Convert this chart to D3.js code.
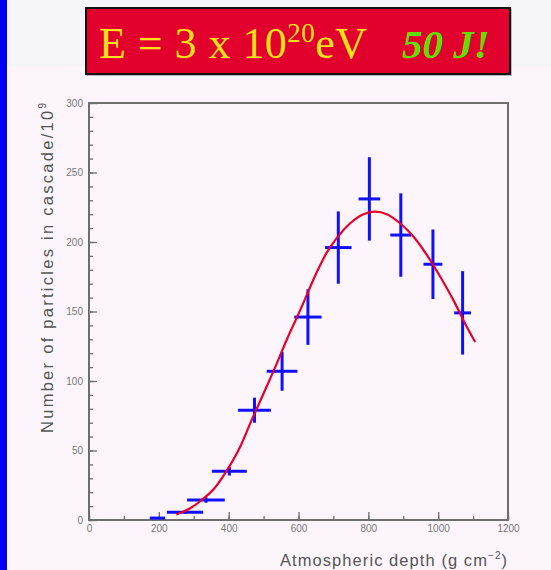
<!DOCTYPE html>
<html>
<head>
<meta charset="utf-8">
<script src="https://cdn.jsdelivr.net/npm/d3@7"></script>
<style>
  html, body { margin: 0; padding: 0; background: #fcf6fc; }
  svg { display: block; }
</style>
</head>
<body>
<svg id="chart" width="551" height="570"></svg>
<script>
// Shower profile: measured particle counts per depth bin
const depth   = [196, 275, 335, 402, 474, 553, 627, 714, 803, 893, 985, 1070];
const count   = [1.4, 5.5, 14.4, 35, 79, 107, 146, 196, 231, 205, 184, 149];
const depthHalfWidth = [22, 52, 54, 50, 47, 44, 39, 38, 31, 30, 27, 24];
const countErr = [0, 1, 2, 3, 9, 14, 20, 26, 30, 30, 25, 30];

// Fitted longitudinal profile (sampled)
const fitDepth = [250, 290, 323, 360, 390, 433, 466, 500, 538, 566, 605, 650, 680, 710, 748, 786, 819, 853, 891, 929, 968, 1006, 1044, 1082, 1106];
const fitCount = [4, 8.5, 14.4, 23, 33.7, 52.7, 72, 91, 112.7, 129.5, 151, 177, 192, 203, 213.5, 220, 221.8, 220, 213.5, 204, 190.6, 175, 158, 139, 128];

const xTickLabels = [0, 200, 400, 600, 800, 1000, 1200];
const yTickLabels = [0, 50, 100, 150, 200, 250, 300];

const svg = d3.select("#chart");

// Page background: pale header band, blue strip on the left
svg.append("rect").attr("x", 0).attr("y", 0).attr("width", 551).attr("height", 570).attr("fill", "#fcf6fc");
svg.append("rect").attr("x", 0).attr("y", 0).attr("width", 551).attr("height", 66).attr("fill", "#f6f6fa");
svg.append("rect").attr("x", 0).attr("y", 0).attr("width", 7).attr("height", 570).attr("fill", "#0000f0");

// Title banner
const banner = svg.append("g");
banner.append("rect").attr("x", 87).attr("y", 9).attr("width", 425).attr("height", 67)
  .attr("fill", "#b8b8c0");
banner.append("rect").attr("x", 86).attr("y", 8).attr("width", 424).attr("height", 66)
  .attr("fill", "#e2002c").attr("stroke", "#111").attr("stroke-width", 2);

const title = banner.append("text")
  .attr("x", 99).attr("y", 58)
  .attr("font-family", "'Liberation Serif', 'Times New Roman', serif")
  .attr("font-size", 44)
  .attr("fill", "#ffe01a")
  .attr("textLength", 268).attr("lengthAdjust", "spacing");
title.append("tspan").text("E = 3 x 10");
title.append("tspan").attr("font-size", 27).attr("dy", -16).text("20");
title.append("tspan").attr("dy", 16).text("eV");
banner.append("text")
  .attr("x", 402).attr("y", 58)
  .attr("font-family", "'Liberation Serif', 'Times New Roman', serif")
  .attr("font-size", 41).attr("font-weight", "bold").attr("font-style", "italic")
  .attr("fill", "#66dd00")
  .text("50 J!");

// Plot area
const x = d3.scaleLinear().domain([0, 1200]).range([89, 508]);
const y = d3.scaleLinear().domain([0, 300]).range([520, 103]);

const axisColor = "#6e6e6e";
const labelColor = "#777";

// Frame
svg.append("rect")
  .attr("x", x(0)).attr("y", y(300))
  .attr("width", x(1200) - x(0)).attr("height", y(0) - y(300))
  .attr("fill", "none").attr("stroke", axisColor).attr("stroke-width", 2);

// Minor ticks
const yMinor = svg.append("g").attr("transform", `translate(${x(0)},0)`)
  .call(d3.axisLeft(y).tickValues(d3.range(0, 301, 10)).tickSize(-4).tickFormat(""));
const xMinor = svg.append("g").attr("transform", `translate(0,${y(0)})`)
  .call(d3.axisBottom(x).tickValues(d3.range(0, 1201, 100)).tickSize(-4).tickFormat(""));

// Major ticks with labels
const yAxis = svg.append("g").attr("transform", `translate(${x(0)},0)`)
  .call(d3.axisLeft(y).tickValues(yTickLabels).tickSize(-8).tickPadding(6).tickFormat(d3.format("d")));
const xAxis = svg.append("g").attr("transform", `translate(0,${y(0)})`)
  .call(d3.axisBottom(x).tickValues(xTickLabels).tickSize(-8).tickPadding(5).tickFormat(d3.format("d")));

[yMinor, xMinor, yAxis, xAxis].forEach(g => {
  g.select(".domain").remove();
  g.selectAll("line").attr("stroke", axisColor).attr("stroke-width", 1.3);
  g.selectAll("text")
    .attr("fill", labelColor)
    .attr("font-family", "'Liberation Sans', Arial, sans-serif")
    .attr("font-size", 10);
});

// Axis titles
svg.append("text")
  .attr("transform", `translate(53,${(103 + 433) / 2}) rotate(-90)`)
  .attr("text-anchor", "middle")
  .attr("font-family", "'Liberation Sans', Arial, sans-serif")
  .attr("font-size", 16.5)
  .attr("fill", "#555")
  .attr("textLength", 330).attr("lengthAdjust", "spacing")
  .html('Number of particles in cascade/10<tspan font-size="10" dy="-7">9</tspan>');

svg.append("text")
  .attr("x", 280).attr("y", 566)
  .attr("font-family", "'Liberation Sans', Arial, sans-serif")
  .attr("font-size", 16.5)
  .attr("fill", "#555")
  .attr("textLength", 227).attr("lengthAdjust", "spacing")
  .html('Atmospheric depth (g cm<tspan font-size="10" dy="-7">−2</tspan><tspan dy="7">)</tspan>');

// Data points with error bars
const pts = depth.map((d, i) => ({ d, c: count[i], w: depthHalfWidth[i], e: countErr[i] }));
const marks = svg.append("g").attr("stroke", "#1010ff").attr("stroke-width", 3);
marks.selectAll("line.h").data(pts).join("line").attr("class", "h")
  .attr("x1", p => x(p.d - p.w)).attr("x2", p => x(p.d + p.w))
  .attr("y1", p => y(p.c)).attr("y2", p => y(p.c));
marks.selectAll("line.v").data(pts.filter(p => p.e > 0)).join("line").attr("class", "v")
  .attr("x1", p => x(p.d)).attr("x2", p => x(p.d))
  .attr("y1", p => y(p.c - p.e)).attr("y2", p => y(p.c + p.e));

// Fit curve
const fit = fitDepth.map((d, i) => [d, fitCount[i]]);
svg.append("path")
  .datum(fit)
  .attr("fill", "none")
  .attr("stroke", "#e8002a")
  .attr("stroke-width", 2.2)
  .attr("d", d3.line().x(p => x(p[0])).y(p => y(p[1])).curve(d3.curveMonotoneX));
</script>
</body>
</html>
